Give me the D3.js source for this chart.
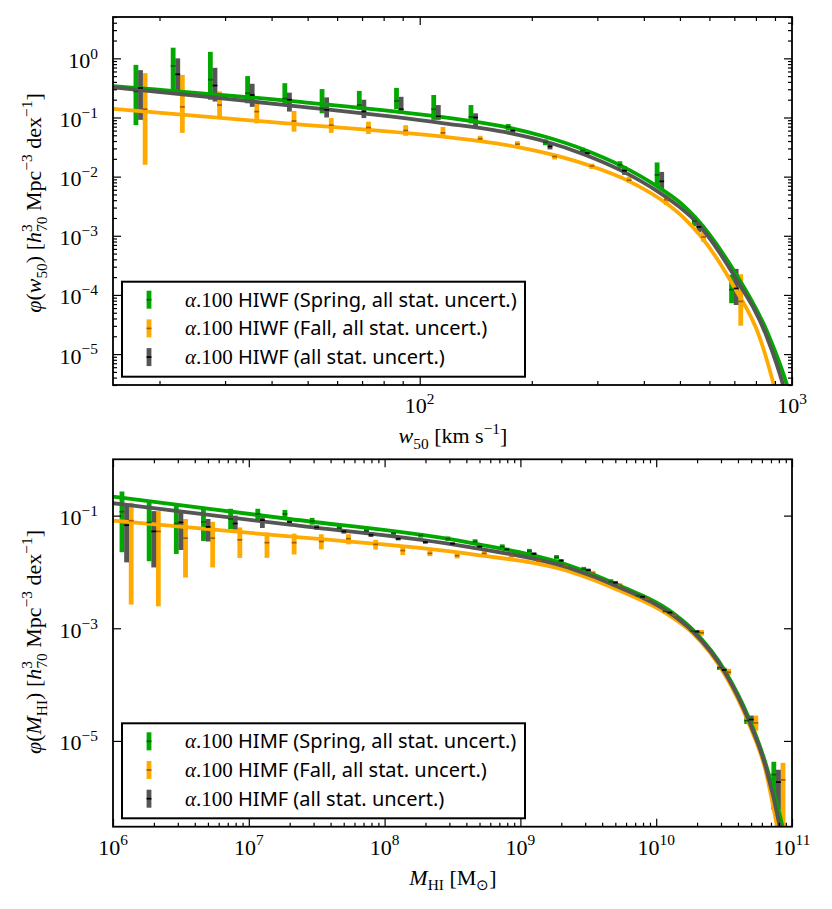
<!DOCTYPE html>
<meta charset='utf-8'>
<style>
body { margin: 0; background: #fff; }
</style>
<div id='chart'></div>
<script src='https://d3js.org/d3.v7.min.js'></script>
<script>
// all phi values are log10 of the number density

// ---- upper panel: HI width function ----
var wBins = [1.25, 1.35, 1.45, 1.55, 1.65, 1.75, 1.85, 1.95, 2.05, 2.15, 2.25, 2.35, 2.45, 2.55, 2.65, 2.75, 2.85];
var wSpring   = [-0.56, -0.13, -0.36, -0.59, -0.68, -0.85, -0.79, -0.72, -0.86, -0.99, -1.16, -1.42, -1.56, -1.80, -1.97, -2.75, -3.91];
var wSpringLo = [-1.13, -0.54, -0.70, -0.76, -0.76, -0.93, -0.87, -0.86, -1.04, -1.10, -1.22, -1.47, -1.61, -1.86, -2.14, -2.84, -4.14];
var wSpringHi = [-0.11, 0.18, 0.11, -0.30, -0.42, -0.52, -0.55, -0.50, -0.62, -0.79, -1.11, -1.37, -1.51, -1.74, -1.76, -2.66, -3.66];
var wFall   = [-0.86, -0.82, -0.79, -0.90, -1.06, -1.13, -1.17, -1.22, -1.26, -1.36, -1.45, -1.66, -1.82, -2.06, -2.39, -3.02, -4.11];
var wFallLo = [-1.80, -1.26, -0.99, -1.10, -1.24, -1.26, -1.28, -1.31, -1.33, -1.41, -1.50, -1.71, -1.87, -2.11, -2.48, -3.10, -4.52];
var wFallHi = [-0.25, -0.28, -0.56, -0.77, -0.89, -1.01, -1.07, -1.13, -1.16, -1.31, -1.40, -1.62, -1.78, -2.00, -2.30, -2.93, -3.65];
var wAll   = [-0.50, -0.27, -0.46, -0.62, -0.70, -0.87, -0.90, -0.86, -0.98, -1.00, -1.22, -1.49, -1.60, -1.90, -2.08, -2.85, -3.89];
var wAllLo = [-1.04, -0.54, -0.73, -0.82, -0.90, -1.00, -1.01, -0.90, -1.04, -1.16, -1.28, -1.54, -1.65, -1.97, -2.23, -2.94, -4.17];
var wAllHi = [-0.20, 0.00, -0.16, -0.43, -0.58, -0.66, -0.70, -0.65, -0.79, -0.93, -1.17, -1.43, -1.55, -1.82, -1.92, -2.75, -3.56];

// fitted curves (log w, log phi)
var wFitSpringX = [1.177, 1.642, 2.056, 2.138, 2.239, 2.340, 2.440, 2.539, 2.639, 2.705, 2.742, 2.843, 2.933, 2.985, 3.0];
var wFitSpringY = [-0.468, -0.716, -0.99, -1.06, -1.17, -1.33, -1.54, -1.81, -2.17, -2.47, -2.70, -3.58, -4.62, -5.49, -5.8];
var wFitFallX = [1.177, 1.642, 2.056, 2.163, 2.263, 2.364, 2.464, 2.563, 2.664, 2.710, 2.754, 2.843, 2.915, 2.951, 2.97];
var wFitFallY = [-0.856, -1.10, -1.32, -1.40, -1.50, -1.64, -1.83, -2.08, -2.46, -2.70, -3.00, -3.85, -4.75, -5.52, -6.0];
var wFitAllX = [1.177, 1.642, 2.056, 2.239, 2.340, 2.440, 2.539, 2.639, 2.705, 2.742, 2.843, 2.933, 2.976, 3.0];
var wFitAllY = [-0.49, -0.79, -1.09, -1.26, -1.41, -1.62, -1.89, -2.25, -2.55, -2.76, -3.66, -4.72, -5.52, -6.1];

var wTicks = [2, 3];
var wPhiTicks = [0, -1, -2, -3, -4, -5];

// ---- lower panel: HI mass function ----
var mBins = [6.1, 6.3, 6.5, 6.7, 6.9, 7.1, 7.3, 7.5, 7.7, 7.9, 8.1, 8.3, 8.5, 8.7, 8.9, 9.1, 9.3, 9.5, 9.7, 9.9, 10.1, 10.3, 10.5, 10.7, 10.9];
var mSpring   = [-0.93, -1.12, -1.14, -1.11, -1.06, -0.97, -0.97, -1.10, -1.22, -1.27, -1.31, -1.35, -1.41, -1.46, -1.55, -1.63, -1.74, -1.95, -2.17, -2.42, -2.70, -3.05, -3.70, -4.64, -5.60];
var mSpringLo = [-1.65, -1.81, -1.68, -1.45, -1.24, -1.06, -1.03, -1.16, -1.27, -1.31, -1.35, -1.39, -1.45, -1.50, -1.59, -1.67, -1.78, -1.99, -2.21, -2.46, -2.74, -3.08, -3.74, -4.70, -6.22];
var mSpringHi = [-0.57, -0.77, -0.82, -0.85, -0.88, -0.88, -0.90, -1.04, -1.17, -1.22, -1.27, -1.31, -1.37, -1.42, -1.51, -1.59, -1.70, -1.91, -2.13, -2.38, -2.66, -3.02, -3.66, -4.58, -5.37];
var mFall   = [-1.09, -1.28, -1.40, -1.40, -1.43, -1.48, -1.48, -1.46, -1.41, -1.51, -1.62, -1.67, -1.71, -1.67, -1.71, -1.80, -1.89, -2.02, -2.24, -2.48, -2.77, -3.08, -3.78, -4.68, -5.69];
var mFallLo = [-2.58, -2.61, -2.10, -1.92, -1.75, -1.75, -1.69, -1.60, -1.51, -1.60, -1.70, -1.72, -1.76, -1.71, -1.75, -1.84, -1.92, -2.06, -2.28, -2.52, -2.81, -3.13, -3.83, -4.82, -6.60];
var mFallHi = [-0.77, -0.92, -1.06, -1.11, -1.21, -1.30, -1.32, -1.33, -1.33, -1.43, -1.56, -1.62, -1.66, -1.63, -1.67, -1.76, -1.85, -1.98, -2.20, -2.44, -2.73, -3.03, -3.72, -4.55, -5.39];
var mAll   = [-1.17, -1.28, -1.12, -1.20, -1.14, -1.08, -1.11, -1.21, -1.28, -1.34, -1.41, -1.47, -1.50, -1.55, -1.60, -1.68, -1.80, -1.97, -2.19, -2.44, -2.72, -3.06, -3.74, -4.62, -5.73];
var mAllLo = [-1.83, -1.92, -1.61, -1.46, -1.25, -1.22, -1.15, -1.25, -1.32, -1.38, -1.44, -1.50, -1.53, -1.58, -1.63, -1.71, -1.83, -2.00, -2.22, -2.47, -2.75, -3.09, -3.78, -4.70, -6.22];
var mAllHi = [-0.82, -0.92, -0.94, -1.06, -1.00, -1.03, -1.06, -1.17, -1.24, -1.30, -1.38, -1.44, -1.47, -1.52, -1.57, -1.65, -1.77, -1.94, -2.16, -2.41, -2.69, -3.03, -3.70, -4.55, -5.51];

var mFitSpringX = [6.0, 7.3, 8.625, 9.36, 9.728, 10.096, 10.267, 10.51, 10.68, 10.806, 10.93, 10.98];
var mFitSpringY = [-0.664, -1.06, -1.48, -1.885, -2.24, -2.68, -3.02, -3.77, -4.58, -5.40, -6.52, -7.1];
var mFitFallX = [6.0, 7.3, 8.625, 9.36, 9.728, 10.096, 10.267, 10.51, 10.68, 10.806, 10.89, 10.95];
var mFitFallY = [-1.09, -1.37, -1.68, -1.99, -2.33, -2.77, -3.08, -3.84, -4.68, -5.53, -6.52, -7.3];
var mFitAllX = [6.0, 7.3, 8.625, 9.36, 9.728, 10.096, 10.267, 10.51, 10.68, 10.806, 10.91, 10.96];
var mFitAllY = [-0.78, -1.16, -1.56, -1.93, -2.27, -2.72, -3.05, -3.80, -4.63, -5.46, -6.52, -7.2];

var mTicks = [6, 7, 8, 9, 10, 11];
var mPhiTicks = [-1, -3, -5];

var labelsW = ['HIWF (Spring, all stat. uncert.)', 'HIWF (Fall, all stat. uncert.)', 'HIWF (all stat. uncert.)'];
var labelsM = ['HIMF (Spring, all stat. uncert.)', 'HIMF (Fall, all stat. uncert.)', 'HIMF (all stat. uncert.)'];

var green = '#00a800', orange = '#ffaa00', grey = '#555555';
var tickCol = ['#0b5a0b', '#a55c00', '#000000'];

var serif = "'Liberation Serif', serif";
var sans = "'Noto Sans', sans-serif";

var W = 832, H = 909, L = 113, R = 792;
var svg = d3.select('#chart').append('svg')
  .attr('width', W).attr('height', H)
  .attr('font-family', serif);

function pw(v) { return Math.pow(10, v); }

// text with sub/superscripts built from tspans
function rich(sel, parts, size) {
  var cur = 0;
  sel.attr('font-family', serif);
  parts.forEach(function(p) {
    var off = p.s == 'sup' ? -0.42 * size : (p.s == 'sub' ? 0.25 * size : 0);
    var ts = sel.append('tspan').text(p.t)
      .attr('dy', off - cur)
      .attr('font-size', (p.s ? size * 0.7 : (p.fs || size)))
      .attr('font-family', p.f || serif);
    if (p.i) ts.attr('font-style', 'italic');
    if (p.dx) ts.attr('dx', p.dx);
    cur = off;
  });
}

function drawPanel(p) {
  var x = d3.scaleLog().domain(p.xDomain).range([L, R]);
  var y = d3.scaleLog().domain(p.yDomain).range([p.bottom, p.top]);
  var g = svg.append('g');

  g.append('clipPath').attr('id', 'clip' + p.id)
    .append('rect').attr('x', L).attr('y', p.top).attr('width', R - L).attr('height', p.bottom - p.top);
  var plot = g.append('g').attr('clip-path', 'url(#clip' + p.id + ')');

  // error bars
  var off = [-4.6, 4.6, 0];
  p.series.forEach(function(s, k) {
    plot.append('g').selectAll('line')
      .data(p.bins)
      .enter().append('line')
        .attr('x1', function(d) { return x(pw(d)) + off[k]; })
        .attr('x2', function(d) { return x(pw(d)) + off[k]; })
        .attr('y1', function(d, i) { return y(pw(s.lo[i])); })
        .attr('y2', function(d, i) { return y(pw(s.hi[i])); })
        .attr('stroke', s.color)
        .attr('stroke-width', 4.8);
  });

  // fitted curves
  var line = d3.line()
    .x(function(d) { return x(pw(d[0])); })
    .y(function(d) { return y(pw(d[1])); })
    .curve(d3.curveMonotoneX);
  [0, 1, 2].forEach(function(k) {
    var c = p.fits[k];
    plot.append('path')
      .datum(d3.zip(c.x, c.y))
      .attr('d', line)
      .attr('fill', 'none')
      .attr('stroke', p.series[k].color)
      .attr('stroke-width', 3.8);
  });

  // central value marks
  p.series.forEach(function(s, k) {
    plot.append('g').selectAll('line')
      .data(p.bins)
      .enter().append('line')
        .attr('x1', function(d) { return x(pw(d)) + off[k] - 2.4; })
        .attr('x2', function(d) { return x(pw(d)) + off[k] + 2.4; })
        .attr('y1', function(d, i) { return y(pw(s.c[i])); })
        .attr('y2', function(d, i) { return y(pw(s.c[i])); })
        .attr('stroke', tickCol[k])
        .attr('stroke-width', 1.7);
  });

  // ticks on all four sides, pointing inward
  var isMajor = function(v) { var l = Math.log10(v); return Math.abs(l - Math.round(l)) < 1e-6; };
  var xMaj = p.xTicks.map(pw);
  var yMaj = p.yTicks.map(pw);
  var xMin = x.ticks().filter(function(v) { return !isMajor(v); });
  var yMin = p.yMinor ? y.ticks().filter(function(v) { return !isMajor(v); }) : [];
  if (p.yMinor) yMaj = y.ticks().filter(isMajor);

  function ax(axis, vals, len, tr) {
    var a = g.append('g').attr('transform', tr)
      .call(axis.tickValues(vals).tickSize(-len).tickSizeOuter(0).tickFormat(''));
    a.select('.domain').remove();
    a.selectAll('line').attr('stroke', '#000').attr('stroke-width', 1.2);
  }
  [[xMaj, 8], [xMin, 4]].forEach(function(t) {
    ax(d3.axisBottom(x), t[0], t[1], 'translate(0,' + p.bottom + ')');
    ax(d3.axisTop(x), t[0], t[1], 'translate(0,' + p.top + ')');
  });
  [[yMaj, 8], [yMin, 4]].forEach(function(t) {
    ax(d3.axisLeft(y), t[0], t[1], 'translate(' + L + ',0)');
    ax(d3.axisRight(y), t[0], t[1], 'translate(' + R + ',0)');
  });

  g.append('rect')
    .attr('x', L).attr('y', p.top).attr('width', R - L).attr('height', p.bottom - p.top)
    .attr('fill', 'none').attr('stroke', '#000').attr('stroke-width', 1.8);

  // tick labels
  p.xTicks.forEach(function(e) {
    var t = g.append('text').attr('x', x(pw(e))).attr('y', p.bottom + 28).attr('text-anchor', 'middle');
    rich(t, [{t: '10'}, {t: String(e), s: 'sup'}], 22);
  });
  p.yTicks.forEach(function(e) {
    var t = g.append('text').attr('x', L - 15).attr('y', y(pw(e)) + 9.5).attr('text-anchor', 'end');
    rich(t, [{t: '10'}, {t: (e < 0 ? '\u2212' + (-e) : String(e)), s: 'sup'}], 22);
  });

  // axis titles
  var xt = g.append('text').attr('x', 453).attr('y', p.bottom + 58).attr('text-anchor', 'middle');
  rich(xt, p.xTitle, 22);
  var yt = g.append('text').attr('text-anchor', 'middle')
    .attr('transform', 'translate(41,' + p.yTitleAt + ') rotate(-90)');
  rich(yt, p.yTitle, 22);

  // legend
  var lg = g.append('g');
  lg.append('rect')
    .attr('x', 122).attr('y', p.legTop).attr('width', 403).attr('height', 95)
    .attr('fill', '#fff').attr('stroke', '#000').attr('stroke-width', 2);
  var item = lg.selectAll('.item')
    .data(p.labels)
    .enter().append('g')
      .attr('transform', function(d, i) { return 'translate(0,' + (p.legTop + 18 + i * 28.7) + ')'; });
  item.append('line')
    .attr('x1', 149).attr('x2', 149).attr('y1', -9).attr('y2', 9)
    .attr('stroke', function(d, i) { return p.series[i].color; })
    .attr('stroke-width', 4.8);
  item.append('line')
    .attr('x1', 146.6).attr('x2', 151.4).attr('y1', 0).attr('y2', 0)
    .attr('stroke', function(d, i) { return tickCol[i]; })
    .attr('stroke-width', 1.7);
  item.each(function(d) {
    var t = d3.select(this).append('text').attr('x', 185).attr('y', 7);
    rich(t, [{t: '\u03b1', i: 1}, {t: '.100 '}, {t: d, f: sans, fs: 20}], 21);
  });
}

drawPanel({
  id: 'w', top: 17, bottom: 385, legTop: 281.7, yTitleAt: 203,
  xDomain: [15, 1000], yDomain: [3e-6, 5],
  xTicks: wTicks, yTicks: wPhiTicks, yMinor: true,
  bins: wBins,
  series: [
    {c: wSpring, lo: wSpringLo, hi: wSpringHi, color: green},
    {c: wFall, lo: wFallLo, hi: wFallHi, color: orange},
    {c: wAll, lo: wAllLo, hi: wAllHi, color: grey}
  ],
  fits: [{x: wFitSpringX, y: wFitSpringY}, {x: wFitFallX, y: wFitFallY}, {x: wFitAllX, y: wFitAllY}],
  labels: labelsW,
  xTitle: [{t: 'w', i: 1}, {t: '50', s: 'sub'}, {t: ' [km s'}, {t: '\u22121', s: 'sup'}, {t: ']'}],
  yTitle: [{t: '\u03c6', i: 1}, {t: '('}, {t: 'w', i: 1}, {t: '50', s: 'sub'}, {t: ') ['}, {t: 'h', i: 1},
           {t: '3', s: 'sup'}, {t: '70', s: 'sub', dx: -7.5}, {t: ' Mpc'}, {t: '\u22123', s: 'sup'},
           {t: ' dex'}, {t: '\u22121', s: 'sup'}, {t: ']'}]
});

drawPanel({
  id: 'm', top: 459.3, bottom: 826.7, legTop: 723.3, yTitleAt: 642,
  xDomain: [1e6, 1e11], yDomain: [3e-7, 1],
  xTicks: mTicks, yTicks: mPhiTicks, yMinor: false,
  bins: mBins,
  series: [
    {c: mSpring, lo: mSpringLo, hi: mSpringHi, color: green},
    {c: mFall, lo: mFallLo, hi: mFallHi, color: orange},
    {c: mAll, lo: mAllLo, hi: mAllHi, color: grey}
  ],
  fits: [{x: mFitSpringX, y: mFitSpringY}, {x: mFitFallX, y: mFitFallY}, {x: mFitAllX, y: mFitAllY}],
  labels: labelsM,
  xTitle: [{t: 'M', i: 1}, {t: 'HI', s: 'sub'}, {t: ' [M'}, {t: '\u2299', s: 'sub'}, {t: ']'}],
  yTitle: [{t: '\u03c6', i: 1}, {t: '('}, {t: 'M', i: 1}, {t: 'HI', s: 'sub'}, {t: ') ['}, {t: 'h', i: 1},
           {t: '3', s: 'sup'}, {t: '70', s: 'sub', dx: -7.5}, {t: ' Mpc'}, {t: '\u22123', s: 'sup'},
           {t: ' dex'}, {t: '\u22121', s: 'sup'}, {t: ']'}]
});
</script>
